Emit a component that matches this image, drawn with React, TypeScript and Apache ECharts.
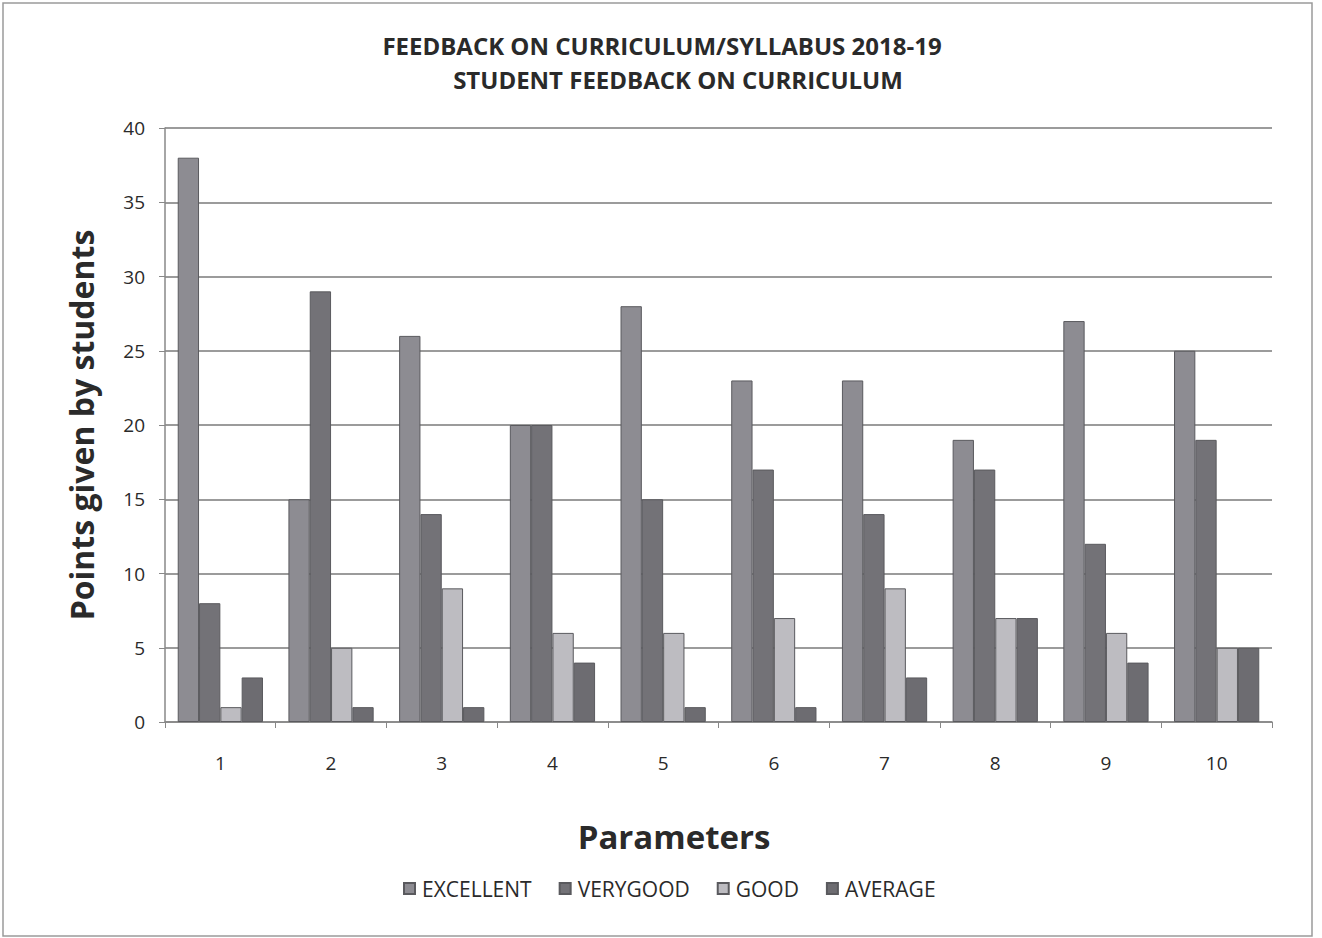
import React, { useEffect, useRef } from "react";
import * as echarts from "echarts";

const categories = ["1", "2", "3", "4", "5", "6", "7", "8", "9", "10"];
const excellent = [38, 15, 26, 20, 28, 23, 23, 19, 27, 25];
const verygood = [8, 29, 14, 20, 15, 17, 14, 17, 12, 19];
const good = [1, 5, 9, 6, 6, 7, 9, 7, 6, 5];
const average = [3, 1, 1, 4, 1, 1, 3, 7, 4, 5];
const seriesNames = ["EXCELLENT", "VERYGOOD", "GOOD", "AVERAGE"];
const seriesColors = ["#8d8c92", "#737277", "#bdbcc1", "#6d6c71"];

const FONT = "'Open Sans', 'Noto Sans', sans-serif";

export default function App() {
  const ref = useRef<HTMLDivElement>(null);
  useEffect(() => {
    if (!ref.current) return;
    const chart = echarts.init(ref.current, undefined, { renderer: "svg" });
    const data = [excellent, verygood, good, average];
    chart.setOption({
      animation: false,
      backgroundColor: "#ffffff",
      graphic: [
        {
          type: "rect",
          shape: { x: 3, y: 3, width: 1309, height: 933 },
          style: { fill: "none", stroke: "#9a9a9a", lineWidth: 1.5 },
          silent: true,
        },
        {
          type: "text",
          x: 662,
          y: 45,
          style: {
            text: "FEEDBACK ON CURRICULUM/SYLLABUS 2018-19",
            font: "bold 24px 'Open Sans', sans-serif",
            fill: "#2a2a2a",
            align: "center",
            verticalAlign: "middle",
          },
          silent: true,
        },
        {
          type: "text",
          x: 678,
          y: 79,
          style: {
            text: "STUDENT FEEDBACK ON CURRICULUM",
            font: "bold 24px 'Open Sans', sans-serif",
            fill: "#2a2a2a",
            align: "center",
            verticalAlign: "middle",
          },
          silent: true,
        },
        {
          type: "text",
          x: 674,
          y: 836,
          style: {
            text: "Parameters",
            font: "bold 33px 'Open Sans', sans-serif",
            fill: "#2a2a2a",
            align: "center",
            verticalAlign: "middle",
          },
          silent: true,
        },
      ],
      legend: {
        bottom: 34,
        left: 398,
        itemWidth: 11,
        itemHeight: 11,
        itemGap: 27,
        icon: "rect",
        textStyle: { fontFamily: FONT, fontSize: 21, color: "#2a2a2a", padding: [0, 0, 0, 2] },
        data: seriesNames,
      },
      grid: { left: 165, right: 50, top: 128, bottom: 216 },
      xAxis: {
        type: "category",
        data: categories,
        axisLine: { show: true, lineStyle: { color: "#888", width: 1.5 } },
        axisTick: { show: true, alignWithLabel: false, length: 6, lineStyle: { color: "#888" } },
        axisLabel: { fontFamily: FONT, fontSize: 19, color: "#2a2a2a", margin: 31 },
      },
      yAxis: {
        type: "value",
        min: 0,
        max: 40,
        interval: 5,
        name: "Points given by students",
        nameLocation: "middle",
        nameGap: 68,
        nameTextStyle: { fontFamily: FONT, fontSize: 32, fontWeight: "bold", color: "#2a2a2a" },
        axisLine: { show: true, lineStyle: { color: "#888", width: 1.5 } },
        axisTick: { show: true, length: 6, lineStyle: { color: "#888" } },
        axisLabel: { fontFamily: FONT, fontSize: 19, color: "#2a2a2a", margin: 20 },
        splitLine: { show: true, lineStyle: { color: "#7a7a7a", width: 1.5 } },
      },
      series: seriesNames.map((name, i) => ({
        name,
        type: "bar",
        data: data[i],
        barGap: "0%",
        barCategoryGap: "23%",
        itemStyle: { color: seriesColors[i], borderColor: "#5a5a5e", borderWidth: 1 },
      })),
    });
    return () => chart.dispose();
  }, []);
  return (
    <div
      ref={ref}
      style={{ position: "absolute", left: 0, top: 0, width: 1322, height: 938 }}
    />
  );
}
